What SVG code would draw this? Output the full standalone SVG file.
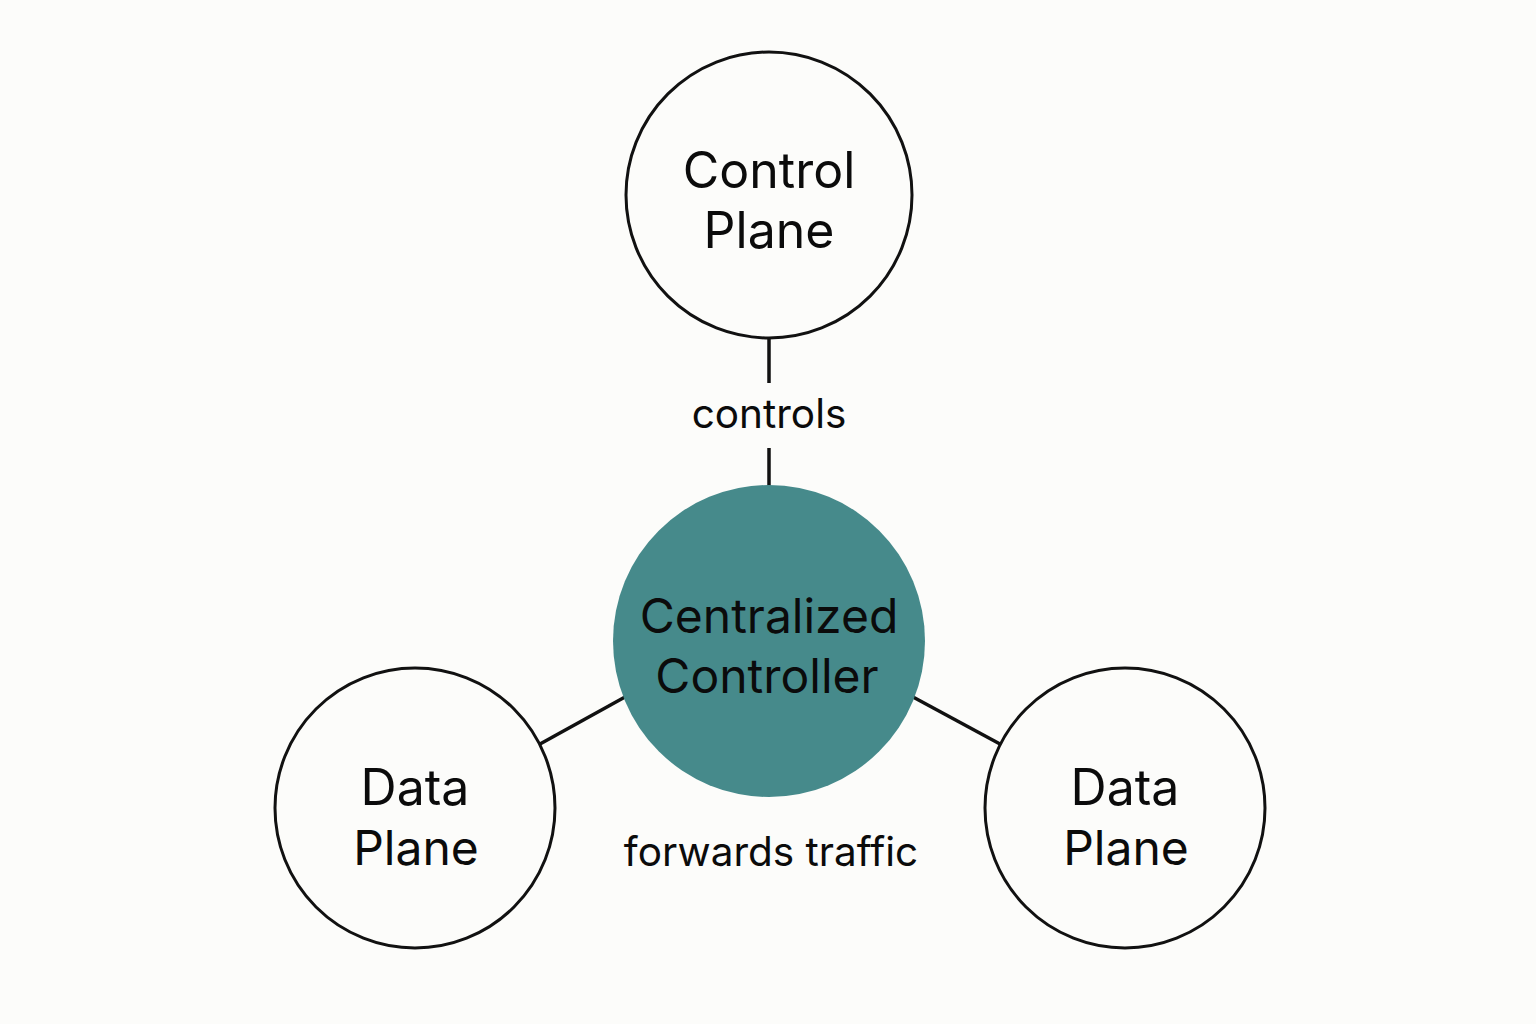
<svg xmlns="http://www.w3.org/2000/svg" width="1536" height="1024" viewBox="0 0 1536 1024">
<style>
.node{fill:none;stroke:#111;stroke-width:3}
.edge{stroke:#111;stroke-width:3.5;fill:none}
.t{font-family:Inter,"Noto Sans",sans-serif;font-size:48px;fill:#0b0b0b;text-anchor:middle}
.t2{font-size:50px}
.lbl{font-family:Inter,"Noto Sans",sans-serif;font-size:40.5px;fill:#0b0b0b;text-anchor:middle}
</style>
<rect width="1536" height="1024" fill="#fcfcfa"/>
<g id="connectors">
<line class="edge" x1="769" y1="338" x2="769" y2="383"/>
<line class="edge" x1="769" y1="448" x2="769" y2="487"/>
<line class="edge" x1="540" y1="744" x2="625" y2="697"/>
<line class="edge" x1="913" y1="697" x2="1000" y2="744"/>
<text class="lbl" x="769" y="428">controls</text>
<text class="lbl" x="771" y="866">forwards traffic</text>
</g>
<g id="control-plane">
<circle class="node" cx="769" cy="195" r="143"/>
<text class="t t2" x="769" y="188">Control</text>
<text class="t t2" x="769" y="248">Plane</text>
</g>
<g id="controller">
<circle cx="769" cy="641" r="156" fill="#468a8b"/>
<text class="t" x="769" y="633">Centralized</text>
<text class="t" x="767" y="693">Controller</text>
</g>
<g id="data-plane-left">
<circle class="node" cx="415" cy="808" r="140"/>
<text class="t t2" x="415" y="805">Data</text>
<text class="t" x="416" y="865">Plane</text>
</g>
<g id="data-plane-right">
<circle class="node" cx="1125" cy="808" r="140"/>
<text class="t t2" x="1125" y="805">Data</text>
<text class="t" x="1126" y="865">Plane</text>
</g>
</svg>
